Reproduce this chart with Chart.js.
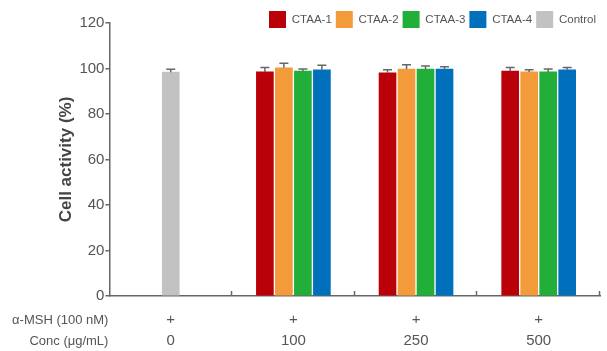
<!DOCTYPE html>
<html>
<head>
<meta charset="utf-8">
<script src="https://cdn.jsdelivr.net/npm/chart.js@4/dist/chart.umd.min.js"></script>
<style>
  html, body { margin: 0; padding: 0; background: #fff; }
  #wrap { width: 607px; height: 351px; position: relative; }
</style>
</head>
<body>
<div id="wrap"><canvas id="cellChart"></canvas></div>
<script>
// data
const concLabels = ['0', '100', '250', '500'];
const mshRow = ['+', '+', '+', '+'];
const seriesNames = ['CTAA-1', 'CTAA-2', 'CTAA-3', 'CTAA-4', 'Control'];
const ctaa1 = [null, 98.5, 98.1, 98.9];
const ctaa2 = [null, 100.3, 99.8, 98.5];
const ctaa3 = [null, 98.9, 99.8, 98.5];
const ctaa4 = [null, 99.4, 99.8, 99.4];
const control = [98.4, null, null, null];
const err1 = [null, 1.9, 1.4, 1.5];
const err2 = [null, 2.0, 1.8, 1.0];
const err3 = [null, 0.9, 1.3, 1.3];
const err4 = [null, 2.0, 1.0, 1.0];
const errCtrl = [1.3, null, null, null];
const yTicks = [0, 20, 40, 60, 80, 100, 120];
const rowTitles = ['\u03b1-MSH (100 nM)', 'Conc (\u03bcg/mL)'];

const colors = ['#ba0009', '#f39b3a', '#21ae39', '#0070bd', '#c1c2c1'];
const axisGray = '#666';
const textGray = '#555';

const values = [ctaa1, ctaa2, ctaa3, ctaa4, control];
const errors = [err1, err2, err3, err4, errCtrl];

// draws upper error bars on top of each bar
const errorBars = {
    id: 'errorBars',
    afterDatasetsDraw(chart) {
        const ctx = chart.ctx;
        const y = chart.scales.y;
        ctx.save();
        ctx.strokeStyle = axisGray;
        ctx.lineWidth = 1.5;
        chart.data.datasets.forEach((ds, di) => {
            const meta = chart.getDatasetMeta(di);
            meta.data.forEach((bar, i) => {
                const v = ds.data[i];
                const e = errors[di][i];
                if (v == null || e == null) return;
                const top = y.getPixelForValue(v + e);
                ctx.beginPath();
                ctx.moveTo(bar.x, bar.y);
                ctx.lineTo(bar.x, top);
                ctx.moveTo(bar.x - 4.5, top);
                ctx.lineTo(bar.x + 4.5, top);
                ctx.stroke();
            });
        });
        ctx.restore();
    }
};

// inward x tick marks at category boundaries + row titles on the left
const xDecor = {
    id: 'xDecor',
    afterDraw(chart) {
        const ctx = chart.ctx;
        const x = chart.scales.x;
        const area = chart.chartArea;
        ctx.save();
        ctx.strokeStyle = axisGray;
        ctx.lineWidth = 1.5;
        const n = chart.data.labels.length;
        const w = (x.right - x.left) / n;
        for (let i = 1; i <= n; i++) {
            const px = Math.round(x.left + w * i) - 0.5;
            ctx.beginPath();
            ctx.moveTo(px, area.bottom);
            ctx.lineTo(px, area.bottom - 5);
            ctx.stroke();
        }
        ctx.fillStyle = textGray;
        ctx.font = '13px "Liberation Sans", Arial, sans-serif';
        ctx.textAlign = 'right';
        ctx.textBaseline = 'middle';
        ctx.fillText(rowTitles[0], area.left - 1, area.bottom + 24);
        ctx.fillText(rowTitles[1], area.left - 1, area.bottom + 45);
        ctx.restore();
    }
};

// let legend overlap the top of the plot so the chart area starts high,
// then give it back its full height so the boxes aren't clipped
const legendHeight = {
    id: 'legendHeight',
    beforeLayout(chart) {
        const lg = chart.legend;
        if (lg && !lg._patched) {
            const fit = lg.fit;
            lg.fit = function () {
                fit.call(this);
                this.height = 16;
            };
            lg._patched = true;
        }
    },
    afterLayout(chart) {
        const lg = chart.legend;
        if (lg) {
            lg.height += 12;
            lg.bottom += 12;
        }
    }
};

new Chart(document.getElementById('cellChart'), {
    type: 'bar',
    data: {
        labels: concLabels.map((c, i) => [mshRow[i], c]),
        datasets: seriesNames.map((name, i) => ({
            label: name,
            data: values[i],
            backgroundColor: colors[i],
            borderWidth: 0,
            barThickness: 19,
            maxBarThickness: 17,
            skipNull: true
        }))
    },
    options: {
        responsive: true,
        maintainAspectRatio: false,
        animation: false,
        layout: { padding: { top: 7, right: 7, left: 56, bottom: -13 } },
        plugins: {
            tooltip: { enabled: false },
            legend: {
                position: 'top',
                align: 'end',
                labels: {
                    boxWidth: 17,
                    boxHeight: 17,
                    padding: 4,
                    color: textGray,
                    font: { family: '"Liberation Sans", Arial, sans-serif', size: 11.5 }
                }
            }
        },
        scales: {
            x: {
                grid: { display: false, drawTicks: false },
                border: { color: axisGray, width: 1.5 },
                ticks: {
                    color: textGray,
                    padding: 13,
                    font: { family: '"Liberation Sans", Arial, sans-serif', size: 15, lineHeight: 1.4 }
                }
            },
            y: {
                min: 0,
                max: 120,
                afterBuildTicks: (axis) => { axis.ticks = yTicks.map(v => ({ value: v })); },
                grid: { drawOnChartArea: false, tickLength: 4, color: axisGray, lineWidth: 1.5 },
                border: { color: axisGray, width: 1.5 },
                ticks: {
                    color: textGray,
                    padding: 1,
                    font: { family: '"Liberation Sans", Arial, sans-serif', size: 15 }
                },
                title: {
                    display: true,
                    text: 'Cell activity (%)',
                    color: '#444',
                    padding: { top: 0, bottom: 2 },
                    font: { family: '"Liberation Sans", Arial, sans-serif', size: 17, weight: 'bold' }
                }
            }
        }
    },
    plugins: [errorBars, xDecor, legendHeight]
});
</script>
</body>
</html>
